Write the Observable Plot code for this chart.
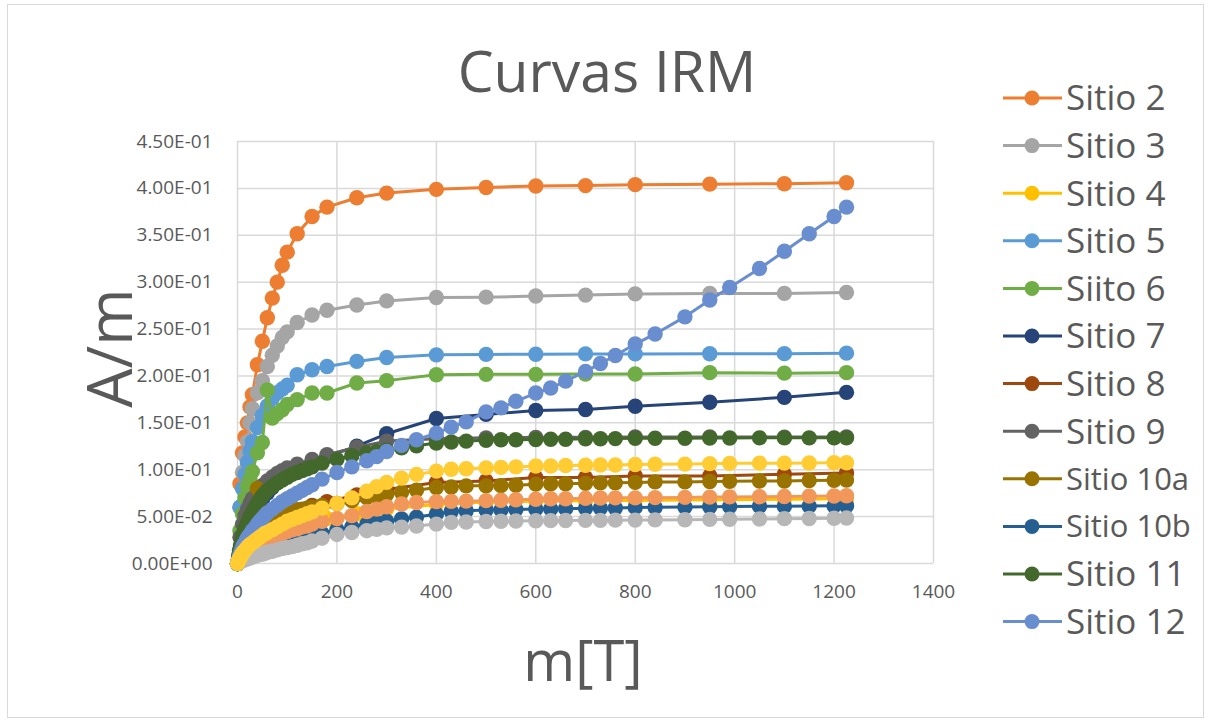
<!DOCTYPE html>
<html><head><meta charset="utf-8">
<script src="https://cdn.jsdelivr.net/npm/d3@7"></script>
<script src="https://cdn.jsdelivr.net/npm/@observablehq/plot@0.6"></script>
<style>
body{margin:0;background:#fff;}
#wrap{position:relative;width:1208px;height:721px;overflow:hidden;font-family:"Open Sans",sans-serif;}
#wrap svg{position:absolute;left:0;top:0;}
</style></head><body><div id="wrap"></div>
<script>
// ---- axis ticks ----
const xTicks = [0, 200, 400, 600, 800, 1000, 1200, 1400];
const yTicks = [0, 0.05, 0.10, 0.15, 0.20, 0.25, 0.30, 0.35, 0.40, 0.45];

// ---- fields (mT) ----
const fieldsA = [0,5,10,15,20,25,30,40,50,60,70,80,90,100,120,150,180,240,300,400,500,600,700,800,950,1100,1225];
const fieldsB = [0,2,4,6,8,10,12,15,18,21,25,30,35,40,45,50,55,60,70,80,90,100,110,120,130,140,150,170,200,230,260,280,300,330,360,400,430,460,500,530,560,600,630,660,700,730,760,800,840,900,950,990,1050,1100,1150,1200,1225];

// ---- series values (A/m) ----
const sitio2 = [0,0.085,0.118,0.135,0.150,0.167,0.180,0.212,0.237,0.262,0.283,0.300,0.318,0.332,0.3516,0.370,0.380,0.390,0.395,0.399,0.401,0.4025,0.403,0.404,0.4045,0.405,0.406];
const sitio3 = [0,0.060,0.097,0.115,0.130,0.150,0.165,0.182,0.195,0.210,0.222,0.232,0.241,0.247,0.257,0.265,0.270,0.2756,0.280,0.2837,0.284,0.2852,0.2862,0.2875,0.288,0.288,0.289];
const sitio4 = [0,0.006,0.010,0.013,0.016,0.018,0.020,0.024,0.027,0.030,0.032,0.034,0.036,0.038,0.041,0.045,0.048,0.053,0.058,0.063,0.0655,0.0665,0.067,0.0672,0.068,0.0685,0.069];
const sitio5 = [0,0.060,0.080,0.095,0.108,0.120,0.130,0.145,0.158,0.168,0.176,0.182,0.186,0.190,0.2013,0.2066,0.2101,0.2155,0.2197,0.2225,0.223,0.2232,0.2235,0.2235,0.2236,0.2238,0.2243];
const siito6 = [0,0.035,0.053,0.070,0.082,0.090,0.098,0.118,0.129,0.185,0.155,0.160,0.164,0.1695,0.1748,0.1818,0.1818,0.1925,0.195,0.2013,0.2017,0.2017,0.202,0.202,0.2035,0.203,0.2035];
const sitio7 = [0,0.015,0.025,0.033,0.040,0.046,0.051,0.060,0.068,0.075,0.081,0.086,0.090,0.094,0.101,0.108,0.114,0.1252,0.1383,0.1546,0.159,0.1631,0.1642,0.1677,0.172,0.1772,0.1825];
const sitio8 = [0,0.008,0.013,0.017,0.020,0.023,0.026,0.031,0.036,0.040,0.044,0.047,0.050,0.053,0.057,0.062,0.066,0.073,0.079,0.0863,0.0881,0.0916,0.0916,0.0934,0.0934,0.0952,0.0966];
const sitio9 = [0,0.028,0.042,0.051,0.058,0.064,0.069,0.077,0.083,0.088,0.092,0.096,0.099,0.102,0.106,0.111,0.116,0.124,0.1305,0.133,0.134,0.1345,0.1345,0.135,0.135,0.1348,0.135];
const sitio10a = [0,0.004,0.007,0.010,0.012,0.014,0.016,0.019,0.021,0.024,0.027,0.030,0.032,0.080,0.037,0.039,0.042,0.044,0.047,0.050,0.052,0.054,0.056,0.057,0.058,0.059,0.060,0.062,0.064,0.067,0.0704,0.072,0.0735,0.0757,0.0782,0.081,0.0815,0.0828,0.0828,0.083,0.0835,0.0846,0.085,0.085,0.0856,0.086,0.086,0.0865,0.087,0.087,0.0874,0.0876,0.088,0.088,0.0885,0.0888,0.089];
const sitio10b = [0,0.002,0.003,0.004,0.005,0.006,0.007,0.008,0.009,0.010,0.011,0.012,0.013,0.014,0.015,0.016,0.017,0.018,0.0195,0.021,0.0225,0.024,0.025,0.026,0.027,0.028,0.029,0.032,0.036,0.039,0.042,0.0435,0.045,0.0474,0.0495,0.0525,0.0555,0.0563,0.057,0.0572,0.0575,0.058,0.0582,0.0585,0.0588,0.059,0.0592,0.0598,0.060,0.0602,0.0605,0.0607,0.061,0.061,0.0612,0.0615,0.0616];
const sitio11 = [0,0.008,0.014,0.019,0.024,0.028,0.032,0.037,0.041,0.045,0.050,0.055,0.060,0.064,0.068,0.072,0.075,0.078,0.082,0.086,0.089,0.092,0.095,0.097,0.099,0.101,0.103,0.107,0.111,0.115,0.118,0.1195,0.121,0.1235,0.1255,0.1285,0.1295,0.1305,0.1315,0.132,0.132,0.1323,0.1325,0.1325,0.133,0.133,0.1332,0.1335,0.1335,0.1335,0.1338,0.1338,0.134,0.134,0.134,0.134,0.134];
const sitio12 = [0,0.004,0.008,0.011,0.014,0.017,0.019,0.022,0.025,0.028,0.031,0.035,0.038,0.042,0.045,0.048,0.051,0.054,0.058,0.062,0.066,0.069,0.072,0.075,0.078,0.081,0.084,0.090,0.097,0.103,0.1095,0.114,0.1195,0.126,0.132,0.139,0.1454,0.151,0.1617,0.166,0.173,0.1818,0.1871,0.1945,0.2048,0.2132,0.2218,0.234,0.2448,0.263,0.281,0.2943,0.3145,0.333,0.3516,0.370,0.380];
const serie14 = [0,0.002,0.004,0.005,0.007,0.008,0.009,0.011,0.012,0.014,0.015,0.017,0.019,0.021,0.022,0.024,0.025,0.026,0.028,0.030,0.032,0.034,0.036,0.037,0.039,0.040,0.042,0.045,0.048,0.051,0.0555,0.058,0.0605,0.0634,0.065,0.066,0.0662,0.0665,0.067,0.0675,0.068,0.0685,0.069,0.069,0.0695,0.0698,0.070,0.070,0.0702,0.0705,0.0708,0.071,0.0712,0.0715,0.0718,0.072,0.0722];
const serie15 = [0,0.001,0.002,0.002,0.003,0.003,0.004,0.004,0.005,0.005,0.006,0.007,0.008,0.009,0.0095,0.010,0.011,0.012,0.013,0.0145,0.016,0.017,0.018,0.0195,0.021,0.022,0.024,0.027,0.031,0.033,0.035,0.0365,0.038,0.0388,0.040,0.042,0.0439,0.0442,0.0448,0.045,0.0453,0.0456,0.0457,0.0458,0.046,0.046,0.0462,0.0463,0.0465,0.0467,0.047,0.0472,0.0475,0.0478,0.048,0.0483,0.0485];
const serie16 = [0,0.003,0.005,0.007,0.009,0.011,0.012,0.014,0.016,0.018,0.020,0.022,0.024,0.026,0.028,0.030,0.032,0.033,0.036,0.039,0.042,0.045,0.047,0.049,0.051,0.053,0.055,0.059,0.064,0.070,0.077,0.082,0.0865,0.091,0.095,0.0985,0.1005,0.101,0.102,0.1025,0.103,0.104,0.104,0.1045,0.1048,0.105,0.105,0.1055,0.1058,0.106,0.1065,0.1068,0.107,0.107,0.1072,0.1075,0.1075];

const seriesNames = ["Sitio 2","Sitio 3","Sitio 4","Sitio 5","Siito 6","Sitio 7","Sitio 8","Sitio 9","Sitio 10a","Sitio 10b","Sitio 11","Sitio 12","Serie 14","Serie 15","Serie 16"];
const seriesColors = ["#ED7D31","#A5A5A5","#FFC000","#5B9BD5","#70AD47","#264478","#9E480E","#636363","#997300","#255E91","#43682B","#698ED0","#F1975A","#B7B7B7","#FFCD33"];
const seriesValues = [sitio2,sitio3,sitio4,sitio5,siito6,sitio7,sitio8,sitio9,sitio10a,sitio10b,sitio11,sitio12,serie14,serie15,serie16];
const seriesFields = [fieldsA,fieldsA,fieldsA,fieldsA,fieldsA,fieldsA,fieldsA,fieldsA,fieldsB,fieldsB,fieldsB,fieldsB,fieldsB,fieldsB,fieldsB];
const legendCount = 12;

const fmt = d => d.toExponential(2).replace("e", "E").replace(/E([+-])(\d)$/, "E$10$2");

const seriesMarks = [];
seriesNames.forEach((name, i) => {
  const rows = seriesFields[i].map((f, j) => ({name, field: f, value: seriesValues[i][j]}));
  seriesMarks.push(Plot.line(rows, {x: "field", y: "value", stroke: seriesColors[i], strokeWidth: 3}));
  seriesMarks.push(Plot.dot(rows, {x: "field", y: "value", fill: seriesColors[i], r: 7.7, stroke: "none"}));
});

const chart = Plot.plot({
  width: 1208, height: 721,
  marginLeft: 237, marginRight: 275, marginTop: 141, marginBottom: 158,
  style: {fontFamily: "'Open Sans', sans-serif", fontSize: "19px", color: "#595959", background: "transparent", overflow: "visible"},
  x: {domain: [0, 1400]},
  y: {domain: [0, 0.45]},
  marks: [
    Plot.ruleX(xTicks, {stroke: "#d9d9d9", strokeWidth: 1.5}),
    Plot.ruleY(yTicks, {stroke: "#d9d9d9", strokeWidth: 1.5}),
    Plot.axisX({ticks: xTicks, tickSize: 0, tickPadding: 21, label: null, tickFormat: d => String(d)}),
    Plot.axisY({ticks: yTicks, tickSize: 0, tickPadding: 25, label: null, tickFormat: fmt}),
    ...seriesMarks
  ]
});

const wrap = document.getElementById("wrap");
wrap.appendChild(chart);

// overlay: border, title, axis titles, legend
const ov = d3.select(wrap).append("svg").attr("width", 1208).attr("height", 721)
  .style("font-family", "'Open Sans', sans-serif").style("pointer-events", "none");
ov.append("rect").attr("x", 7.5).attr("y", 4.5).attr("width", 1196).attr("height", 713)
  .attr("fill", "none").attr("stroke", "#d9d9d9").attr("stroke-width", 1);
ov.append("text").attr("x", 607).attr("y", 92).attr("text-anchor", "middle")
  .attr("font-size", 57).attr("fill", "#595959").text("Curvas IRM");
ov.append("text").attr("transform", "translate(132,348) rotate(-90)").attr("text-anchor", "middle")
  .attr("font-size", 62).attr("fill", "#595959").text("A/m");
ov.append("text").attr("x", 583).attr("y", 681).attr("text-anchor", "middle")
  .attr("font-size", 56).attr("fill", "#595959").text("m[T]");

for (let i = 0; i < legendCount; i++) {
  const cy = 98 + 47.6 * i;
  const g = ov.append("g");
  g.append("line").attr("x1", 1003).attr("x2", 1062).attr("y1", cy).attr("y2", cy)
    .attr("stroke", seriesColors[i]).attr("stroke-width", 3);
  g.append("circle").attr("cx", 1032).attr("cy", cy).attr("r", 7.5).attr("fill", seriesColors[i]);
  const fs = seriesNames[i].length > 8 ? 31 : 35;
  g.append("text").attr("x", 1066).attr("y", cy + 0.357 * fs).attr("font-size", fs)
    .attr("fill", "#595959").text(seriesNames[i]);
}
</script></body></html>
